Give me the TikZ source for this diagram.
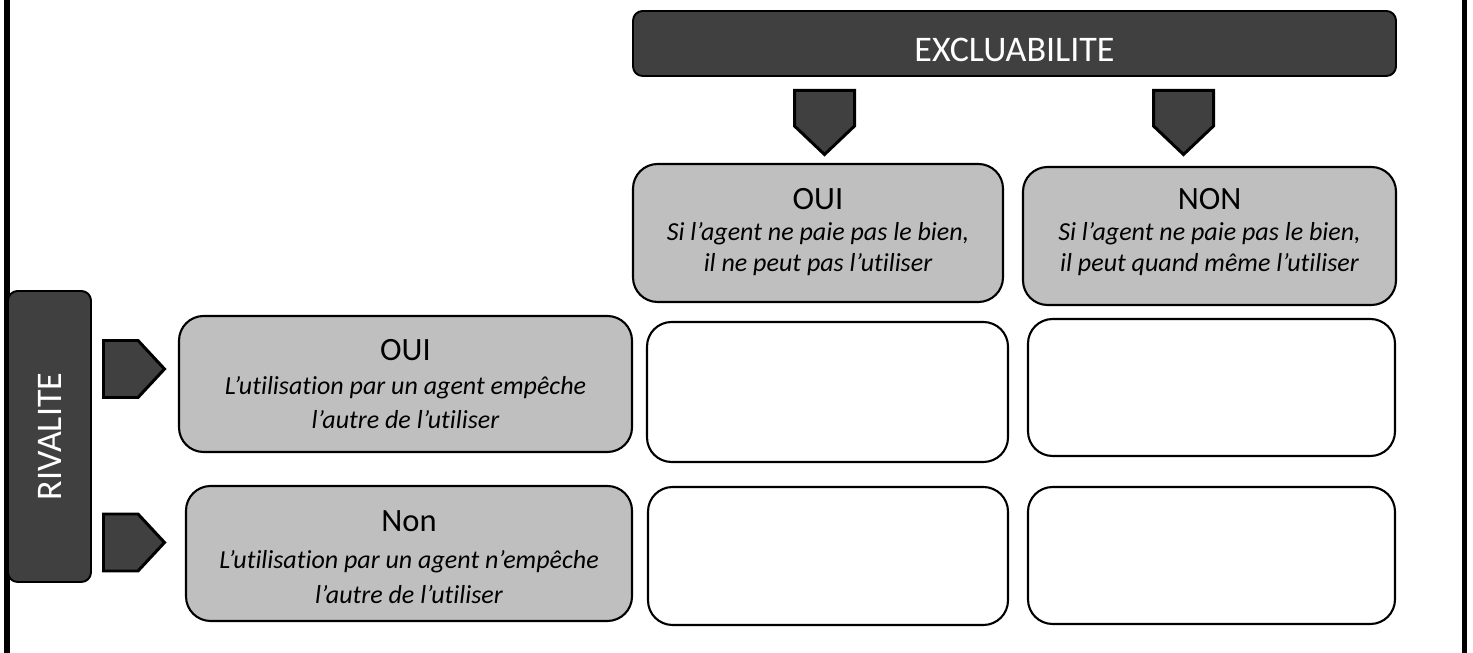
\documentclass[tikz,border=0pt]{standalone}
\usepackage{fontspec}
\setmainfont{Carlito}[Ligatures={TeX,NoCommon}]
\usetikzlibrary{positioning}
\definecolor{dk}{HTML}{404040}
\definecolor{gr}{HTML}{BFBFBF}
\newcommand\hdsize{\normalfont\fontsize{18.5}{22}\selectfont}
\tikzset{
  band/.style={
    rectangle, rounded corners=5.5pt, draw=black, line width=1.1pt,
    fill=dk, inner sep=0pt
  },
  bandtxt/.style={
    inner sep=0pt, text=white, font=\fontsize{20.5}{24}\selectfont
  },
  gbox/.style={
    rectangle, rounded corners=14pt, draw=black, line width=1.2pt,
    fill=gr, inner sep=0pt
  },
  wbox/.style={gbox, fill=white},
  chevron/.style={draw=black, line width=1.7pt, fill=dk, line join=miter},
  toptxt/.style={
    inner sep=0pt, align=center,
    font=\itshape\fontsize{14.8}{17.6}\selectfont
  },
  rowtxt/.style={
    inner sep=0pt, align=center,
    font=\itshape\fontsize{14.8}{19.5}\selectfont
  }
}

\begin{document}
\begin{tikzpicture}
\useasboundingbox (0,0) rectangle (29.46,-13.06);

% -- page rules left and right ---------------------------------------
\draw[line width=3.2pt] (0.14,0) -- (0.14,-13.06);
\draw[line width=3.2pt] (29.29,0) -- (29.29,-13.06);

% -- column header -----------------------------------------------------
\node[band, minimum width=15.26cm, minimum height=1.3cm] (excl) at (20.29,-0.87) {};
\node[bandtxt, below=0.55cm of excl.north] (excltxt) {EXCLUABILITE};

\draw[chevron] (15.89,-1.81) -- (17.09,-1.81) -- (17.09,-2.52)
  -- (16.49,-3.09) -- (15.89,-2.52) -- cycle;
\draw[chevron] (23.07,-1.81) -- (24.27,-1.81) -- (24.27,-2.52)
  -- (23.67,-3.09) -- (23.07,-2.52) -- cycle;

\node[gbox, minimum width=7.4cm, minimum height=2.76cm] (exoui) at (16.36,-4.66) {};
\node[gbox, minimum width=7.46cm, minimum height=2.76cm] (exnon) at (24.19,-4.72) {};

\node[toptxt, below=0.5cm of exoui.north] (exouitxt)
  {{\hdsize OUI}\\Si l’agent ne paie pas le bien,\\il ne peut pas l’utiliser};
\node[toptxt, below=0.44cm of exnon.north] (exnontxt)
  {{\hdsize NON}\\Si l’agent ne paie pas le bien,\\il peut quand même l’utiliser};

% -- row header --------------------------------------------------------
\node[band, minimum width=1.66cm, minimum height=5.82cm] (rival) at (0.99,-8.73) {};
\node[bandtxt, rotate=90] (rivaltxt) at (rival.center) {RIVALITE};

\draw[chevron] (2.07,-6.81) -- (2.76,-6.81) -- (3.29,-7.38)
  -- (2.76,-7.95) -- (2.07,-7.95) -- cycle;
\draw[chevron] (2.07,-10.28) -- (2.76,-10.28) -- (3.29,-10.85)
  -- (2.76,-11.42) -- (2.07,-11.42) -- cycle;

\node[gbox, minimum width=9.06cm, minimum height=2.72cm] (rivoui) at (8.11,-7.68) {};
\node[gbox, minimum width=8.92cm, minimum height=2.7cm] (rivnon) at (8.18,-11.07) {};

\node[rowtxt, below=0.48cm of rivoui.north] (rivouitxt)
  {{\hdsize OUI}\\L’utilisation par un agent empêche\\l’autre de l’utiliser};
\node[rowtxt, below=0.5cm of rivnon.north] (rivnontxt)
  {{\hdsize Non}\\[2pt]L’utilisation par un agent n’empêche\\l’autre de l’utiliser};

% -- empty cells -------------------------------------------------------
\node[wbox, minimum width=7.22cm, minimum height=2.8cm] (cella) at (16.55,-7.84) {};
\node[wbox, minimum width=7.34cm, minimum height=2.74cm] (cellb) at (24.23,-7.75) {};
\node[wbox, minimum width=7.2cm, minimum height=2.76cm] (cellc) at (16.56,-11.12) {};
\node[wbox, minimum width=7.34cm, minimum height=2.74cm] (celld) at (24.23,-11.11) {};

\end{tikzpicture}
\end{document}
